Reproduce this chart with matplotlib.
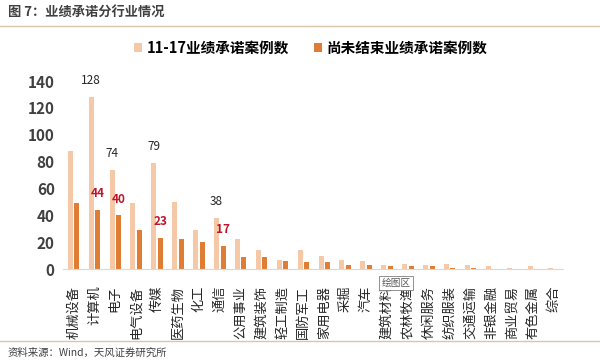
import numpy as np
import matplotlib
matplotlib.use("Agg")
import matplotlib.pyplot as plt
from matplotlib.lines import Line2D

plt.rcParams["font.family"] = ["Noto Sans CJK SC", "DejaVu Sans"]

industries = ["机械设备", "计算机", "电子", "电气设备", "传媒", "医药生物", "化工", "通信",
              "公用事业", "建筑装饰", "轻工制造", "国防军工", "家用电器", "采掘", "汽车",
              "建筑材料", "农林牧渔", "休闲服务", "纺织服装", "交通运输", "非银金融",
              "商业贸易", "有色金属", "综合"]
total_cases = [88, 128, 74, 49, 79, 50, 29, 38, 22, 14, 7, 14, 10, 7, 6, 3, 4, 3, 4, 3, 2, 1, 2, 1]
open_cases = [49, 44, 40, 29, 23, 22, 20, 17, 9, 9, 6, 5, 5, 3, 3, 2, 2, 2, 1, 1, 0, 0, 0, 0]
labelled = ["计算机", "电子", "传媒", "通信"]

LIGHT = "#F5C9A8"
DARK = "#E07D35"

fig = plt.figure(figsize=(6.0, 3.63), dpi=100)
ax = fig.add_axes([63 / 600, 94 / 363, 500 / 600, 188 / 363])

x = np.arange(len(industries))
w = 0.24
b1 = ax.bar(x - 0.155, total_cases, w, color=LIGHT, label="11-17业绩承诺案例数")
b2 = ax.bar(x + 0.155, open_cases, w, color=DARK, label="尚未结束业绩承诺案例数")

for name in labelled:
    i = industries.index(name)
    ax.annotate(str(total_cases[i]), (x[i] - 0.155, total_cases[i]), xytext=(0, 7),
                textcoords="offset points", ha="center", va="bottom",
                fontsize=8.5, fontweight="medium", color="#262626")
    ax.annotate(str(open_cases[i]), (x[i] + 0.155, open_cases[i]), xytext=(0, 7),
                textcoords="offset points", ha="center", va="bottom",
                fontsize=8.5, fontweight="bold", color="#C0142A")

ax.set_xlim(-0.5, 23.42)
ax.set_ylim(0, 140)
ax.set_yticks(range(0, 141, 20))
ax.set_xticks(x, industries, rotation=90, fontsize=9.5, color="#262626")
ax.tick_params(axis="x", length=0, pad=12)
ax.tick_params(axis="y", length=0, pad=6, labelsize=11, labelcolor="#404040")
for t in ax.get_yticklabels():
    t.set_fontweight("bold")
for s in ["top", "right", "left"]:
    ax.spines[s].set_visible(False)
ax.spines["bottom"].set_color("#D9D9D9")

fig.legend(handles=[b1, b2], loc="center left", bbox_to_anchor=(121 / 600, 1 - 48 / 363),
           ncol=2, frameon=False, handlelength=0.55, handleheight=0.55, handletextpad=0.3,
           columnspacing=1.7, prop={"size": 10.5, "weight": "bold"})

# header, footer and the Excel tooltip left in the screenshot
fig.text(8 / 600, 1 - 13 / 363, "图 7：业绩承诺分行业情况", fontsize=9.5, fontweight="bold",
         color="#404040", va="center")
fig.add_artist(Line2D([0, 1], [1 - 26 / 363] * 2, color="#D8C6AC", lw=1))
fig.add_artist(Line2D([0, 1], [1 - 341 / 363] * 2, color="#D8C6AC", lw=1))
fig.text(8 / 600, 1 - 353 / 363, "资料来源：Wind，天风证券研究所", fontsize=7.5,
         color="#404040", va="center")
fig.text(396 / 600, 1 - 283 / 363, "绘图区", fontsize=7, color="#595959", ha="center",
         va="center", bbox=dict(boxstyle="square,pad=0.2", fc="white", ec="#7F7F7F", lw=0.6))

fig.savefig("out.png", dpi=100)
